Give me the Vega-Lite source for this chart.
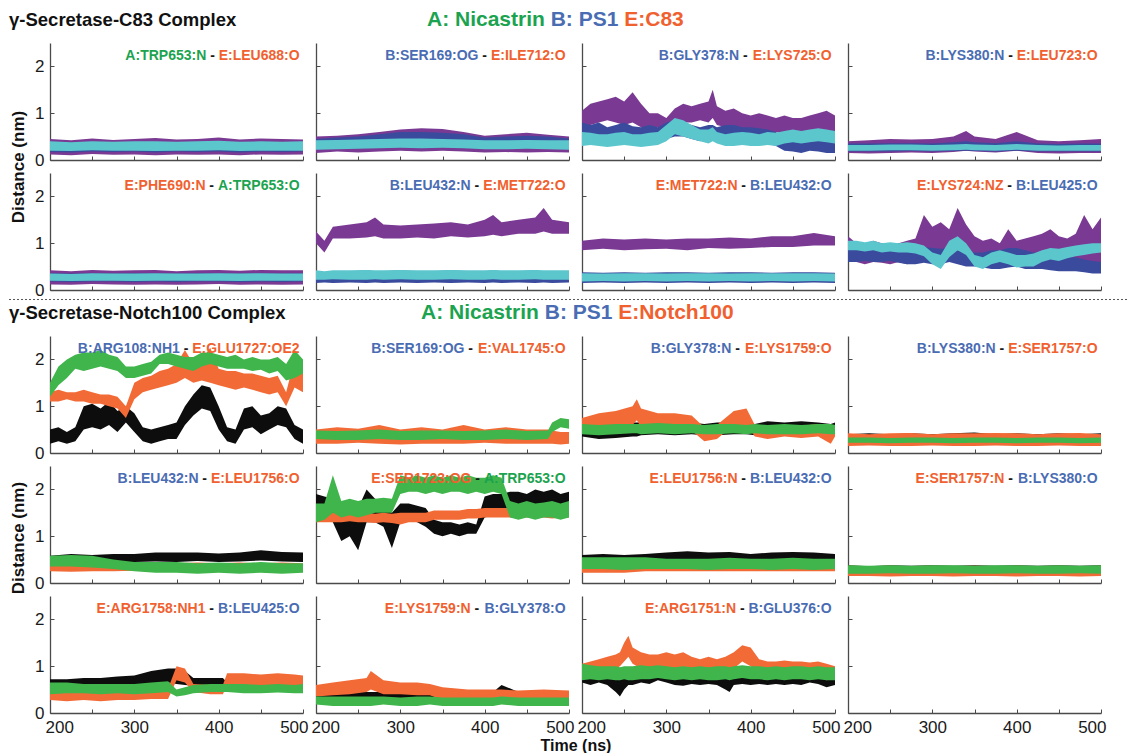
{
"$schema": "https://vega.github.io/schema/vega-lite/v6.json",
"padding": {"left": 8, "top": 8, "right": 0, "bottom": 2},
"spacing": 0,
"datasets": {
"c83": [
{"p":1,"t":200,"l1":0.12,"h1":0.45,"l2":0.17,"h2":0.38,"l3":0.2,"h3":0.4},
{"p":1,"t":225,"l1":0.1,"h1":0.42,"l2":0.16,"h2":0.37,"l3":0.19,"h3":0.38},
{"p":1,"t":250,"l1":0.13,"h1":0.46,"l2":0.18,"h2":0.38,"l3":0.21,"h3":0.4},
{"p":1,"t":275,"l1":0.11,"h1":0.43,"l2":0.17,"h2":0.37,"l3":0.2,"h3":0.39},
{"p":1,"t":300,"l1":0.12,"h1":0.45,"l2":0.18,"h2":0.38,"l3":0.2,"h3":0.4},
{"p":1,"t":325,"l1":0.1,"h1":0.47,"l2":0.16,"h2":0.37,"l3":0.19,"h3":0.4},
{"p":1,"t":350,"l1":0.12,"h1":0.44,"l2":0.18,"h2":0.38,"l3":0.2,"h3":0.39},
{"p":1,"t":375,"l1":0.11,"h1":0.45,"l2":0.17,"h2":0.37,"l3":0.2,"h3":0.4},
{"p":1,"t":400,"l1":0.12,"h1":0.48,"l2":0.18,"h2":0.38,"l3":0.21,"h3":0.41},
{"p":1,"t":425,"l1":0.1,"h1":0.44,"l2":0.16,"h2":0.37,"l3":0.19,"h3":0.39},
{"p":1,"t":450,"l1":0.12,"h1":0.46,"l2":0.18,"h2":0.38,"l3":0.2,"h3":0.4},
{"p":1,"t":475,"l1":0.11,"h1":0.45,"l2":0.17,"h2":0.37,"l3":0.2,"h3":0.39},
{"p":1,"t":500,"l1":0.12,"h1":0.44,"l2":0.18,"h2":0.38,"l3":0.2,"h3":0.4},
{"p":2,"t":200,"l1":0.15,"h1":0.5,"l2":0.25,"h2":0.45,"l3":0.22,"h3":0.42},
{"p":2,"t":225,"l1":0.18,"h1":0.52,"l2":0.26,"h2":0.48,"l3":0.23,"h3":0.43},
{"p":2,"t":250,"l1":0.16,"h1":0.55,"l2":0.27,"h2":0.5,"l3":0.24,"h3":0.44},
{"p":2,"t":275,"l1":0.18,"h1":0.6,"l2":0.28,"h2":0.55,"l3":0.25,"h3":0.45},
{"p":2,"t":300,"l1":0.2,"h1":0.65,"l2":0.3,"h2":0.6,"l3":0.26,"h3":0.46},
{"p":2,"t":325,"l1":0.18,"h1":0.68,"l2":0.3,"h2":0.6,"l3":0.25,"h3":0.46},
{"p":2,"t":350,"l1":0.2,"h1":0.66,"l2":0.3,"h2":0.58,"l3":0.26,"h3":0.45},
{"p":2,"t":375,"l1":0.18,"h1":0.6,"l2":0.28,"h2":0.55,"l3":0.25,"h3":0.44},
{"p":2,"t":400,"l1":0.16,"h1":0.52,"l2":0.26,"h2":0.48,"l3":0.23,"h3":0.42},
{"p":2,"t":425,"l1":0.17,"h1":0.55,"l2":0.26,"h2":0.5,"l3":0.23,"h3":0.42},
{"p":2,"t":450,"l1":0.16,"h1":0.58,"l2":0.27,"h2":0.52,"l3":0.24,"h3":0.43},
{"p":2,"t":475,"l1":0.17,"h1":0.54,"l2":0.26,"h2":0.5,"l3":0.23,"h3":0.42},
{"p":2,"t":500,"l1":0.16,"h1":0.5,"l2":0.25,"h2":0.46,"l3":0.22,"h3":0.42},
{"p":3,"t":200,"l1":0.7,"h1":1.05,"l2":0.45,"h2":0.8,"l3":0.3,"h3":0.6},
{"p":3,"t":210,"l1":0.75,"h1":1.2,"l2":0.4,"h2":0.75,"l3":0.32,"h3":0.58},
{"p":3,"t":220,"l1":0.8,"h1":1.25,"l2":0.45,"h2":0.8,"l3":0.3,"h3":0.55},
{"p":3,"t":230,"l1":0.85,"h1":1.3,"l2":0.4,"h2":0.7,"l3":0.28,"h3":0.55},
{"p":3,"t":240,"l1":0.8,"h1":1.35,"l2":0.42,"h2":0.75,"l3":0.3,"h3":0.58},
{"p":3,"t":250,"l1":0.75,"h1":1.25,"l2":0.45,"h2":0.8,"l3":0.32,"h3":0.6},
{"p":3,"t":260,"l1":0.8,"h1":1.45,"l2":0.4,"h2":0.72,"l3":0.3,"h3":0.55},
{"p":3,"t":270,"l1":0.7,"h1":1.2,"l2":0.4,"h2":0.7,"l3":0.28,"h3":0.55},
{"p":3,"t":280,"l1":0.65,"h1":1.0,"l2":0.45,"h2":0.75,"l3":0.3,"h3":0.58},
{"p":3,"t":290,"l1":0.7,"h1":1.0,"l2":0.4,"h2":0.7,"l3":0.32,"h3":0.6},
{"p":3,"t":300,"l1":0.6,"h1":0.9,"l2":0.45,"h2":0.8,"l3":0.4,"h3":0.75},
{"p":3,"t":310,"l1":0.75,"h1":1.1,"l2":0.5,"h2":0.85,"l3":0.55,"h3":0.9},
{"p":3,"t":320,"l1":0.8,"h1":1.2,"l2":0.5,"h2":0.8,"l3":0.5,"h3":0.85},
{"p":3,"t":330,"l1":0.8,"h1":1.15,"l2":0.45,"h2":0.75,"l3":0.45,"h3":0.75},
{"p":3,"t":340,"l1":0.85,"h1":1.2,"l2":0.4,"h2":0.7,"l3":0.4,"h3":0.65},
{"p":3,"t":350,"l1":0.8,"h1":1.25,"l2":0.45,"h2":0.75,"l3":0.35,"h3":0.65},
{"p":3,"t":355,"l1":0.9,"h1":1.5,"l2":0.45,"h2":0.75,"l3":0.4,"h3":0.7},
{"p":3,"t":360,"l1":0.75,"h1":1.15,"l2":0.4,"h2":0.7,"l3":0.35,"h3":0.6},
{"p":3,"t":370,"l1":0.7,"h1":1.05,"l2":0.4,"h2":0.75,"l3":0.3,"h3":0.55},
{"p":3,"t":380,"l1":0.7,"h1":1.1,"l2":0.45,"h2":0.75,"l3":0.3,"h3":0.58},
{"p":3,"t":390,"l1":0.65,"h1":1.0,"l2":0.4,"h2":0.7,"l3":0.32,"h3":0.6},
{"p":3,"t":400,"l1":0.6,"h1":0.95,"l2":0.4,"h2":0.7,"l3":0.3,"h3":0.58},
{"p":3,"t":410,"l1":0.65,"h1":1.0,"l2":0.38,"h2":0.68,"l3":0.3,"h3":0.55},
{"p":3,"t":420,"l1":0.6,"h1":0.95,"l2":0.35,"h2":0.65,"l3":0.32,"h3":0.6},
{"p":3,"t":430,"l1":0.6,"h1":0.9,"l2":0.3,"h2":0.6,"l3":0.3,"h3":0.58},
{"p":3,"t":440,"l1":0.55,"h1":0.95,"l2":0.2,"h2":0.45,"l3":0.35,"h3":0.62},
{"p":3,"t":450,"l1":0.6,"h1":0.9,"l2":0.18,"h2":0.42,"l3":0.38,"h3":0.65},
{"p":3,"t":460,"l1":0.55,"h1":0.9,"l2":0.15,"h2":0.4,"l3":0.35,"h3":0.62},
{"p":3,"t":470,"l1":0.6,"h1":0.95,"l2":0.2,"h2":0.45,"l3":0.38,"h3":0.65},
{"p":3,"t":480,"l1":0.55,"h1":1.0,"l2":0.18,"h2":0.42,"l3":0.4,"h3":0.68},
{"p":3,"t":490,"l1":0.6,"h1":1.05,"l2":0.15,"h2":0.4,"l3":0.38,"h3":0.65},
{"p":3,"t":500,"l1":0.55,"h1":0.95,"l2":0.15,"h2":0.4,"l3":0.35,"h3":0.62},
{"p":4,"t":200,"l1":0.15,"h1":0.4,"l2":0.18,"h2":0.35,"l3":0.2,"h3":0.32},
{"p":4,"t":225,"l1":0.14,"h1":0.42,"l2":0.18,"h2":0.35,"l3":0.2,"h3":0.32},
{"p":4,"t":250,"l1":0.15,"h1":0.45,"l2":0.18,"h2":0.36,"l3":0.21,"h3":0.33},
{"p":4,"t":275,"l1":0.16,"h1":0.44,"l2":0.19,"h2":0.36,"l3":0.21,"h3":0.33},
{"p":4,"t":300,"l1":0.15,"h1":0.45,"l2":0.18,"h2":0.35,"l3":0.2,"h3":0.32},
{"p":4,"t":325,"l1":0.17,"h1":0.5,"l2":0.19,"h2":0.38,"l3":0.21,"h3":0.33},
{"p":4,"t":340,"l1":0.2,"h1":0.62,"l2":0.2,"h2":0.4,"l3":0.22,"h3":0.34},
{"p":4,"t":350,"l1":0.18,"h1":0.5,"l2":0.19,"h2":0.38,"l3":0.21,"h3":0.33},
{"p":4,"t":375,"l1":0.16,"h1":0.45,"l2":0.18,"h2":0.36,"l3":0.2,"h3":0.32},
{"p":4,"t":400,"l1":0.2,"h1":0.6,"l2":0.2,"h2":0.4,"l3":0.22,"h3":0.34},
{"p":4,"t":425,"l1":0.15,"h1":0.42,"l2":0.18,"h2":0.35,"l3":0.2,"h3":0.32},
{"p":4,"t":450,"l1":0.14,"h1":0.4,"l2":0.18,"h2":0.34,"l3":0.2,"h3":0.31},
{"p":4,"t":475,"l1":0.15,"h1":0.42,"l2":0.18,"h2":0.35,"l3":0.2,"h3":0.32},
{"p":4,"t":500,"l1":0.15,"h1":0.45,"l2":0.18,"h2":0.35,"l3":0.2,"h3":0.32},
{"p":5,"t":200,"l1":0.12,"h1":0.42,"l2":0.18,"h2":0.36,"l3":0.2,"h3":0.35},
{"p":5,"t":225,"l1":0.11,"h1":0.4,"l2":0.17,"h2":0.35,"l3":0.19,"h3":0.34},
{"p":5,"t":250,"l1":0.13,"h1":0.43,"l2":0.18,"h2":0.36,"l3":0.2,"h3":0.36},
{"p":5,"t":275,"l1":0.12,"h1":0.41,"l2":0.18,"h2":0.35,"l3":0.2,"h3":0.35},
{"p":5,"t":300,"l1":0.11,"h1":0.42,"l2":0.17,"h2":0.36,"l3":0.19,"h3":0.35},
{"p":5,"t":325,"l1":0.12,"h1":0.43,"l2":0.18,"h2":0.36,"l3":0.2,"h3":0.36},
{"p":5,"t":350,"l1":0.11,"h1":0.4,"l2":0.17,"h2":0.35,"l3":0.2,"h3":0.35},
{"p":5,"t":375,"l1":0.12,"h1":0.42,"l2":0.18,"h2":0.36,"l3":0.2,"h3":0.35},
{"p":5,"t":400,"l1":0.13,"h1":0.43,"l2":0.18,"h2":0.36,"l3":0.2,"h3":0.36},
{"p":5,"t":425,"l1":0.11,"h1":0.41,"l2":0.17,"h2":0.35,"l3":0.19,"h3":0.35},
{"p":5,"t":450,"l1":0.12,"h1":0.43,"l2":0.18,"h2":0.36,"l3":0.2,"h3":0.36},
{"p":5,"t":475,"l1":0.11,"h1":0.42,"l2":0.17,"h2":0.35,"l3":0.2,"h3":0.35},
{"p":5,"t":500,"l1":0.12,"h1":0.42,"l2":0.18,"h2":0.36,"l3":0.2,"h3":0.35},
{"p":6,"t":200,"l1":1.0,"h1":1.25,"l2":0.15,"h2":0.4,"l3":0.22,"h3":0.42},
{"p":6,"t":210,"l1":0.8,"h1":1.05,"l2":0.16,"h2":0.38,"l3":0.22,"h3":0.4},
{"p":6,"t":220,"l1":1.1,"h1":1.35,"l2":0.15,"h2":0.4,"l3":0.23,"h3":0.42},
{"p":6,"t":240,"l1":1.1,"h1":1.4,"l2":0.16,"h2":0.4,"l3":0.22,"h3":0.42},
{"p":6,"t":260,"l1":1.12,"h1":1.45,"l2":0.15,"h2":0.42,"l3":0.22,"h3":0.43},
{"p":6,"t":270,"l1":1.15,"h1":1.55,"l2":0.16,"h2":0.4,"l3":0.23,"h3":0.42},
{"p":6,"t":280,"l1":1.1,"h1":1.4,"l2":0.15,"h2":0.4,"l3":0.22,"h3":0.42},
{"p":6,"t":300,"l1":1.1,"h1":1.38,"l2":0.16,"h2":0.42,"l3":0.23,"h3":0.43},
{"p":6,"t":320,"l1":1.12,"h1":1.4,"l2":0.15,"h2":0.4,"l3":0.22,"h3":0.42},
{"p":6,"t":340,"l1":1.1,"h1":1.42,"l2":0.16,"h2":0.4,"l3":0.22,"h3":0.42},
{"p":6,"t":360,"l1":1.15,"h1":1.45,"l2":0.15,"h2":0.42,"l3":0.23,"h3":0.43},
{"p":6,"t":380,"l1":1.12,"h1":1.4,"l2":0.16,"h2":0.4,"l3":0.22,"h3":0.42},
{"p":6,"t":400,"l1":1.15,"h1":1.5,"l2":0.15,"h2":0.4,"l3":0.22,"h3":0.42},
{"p":6,"t":410,"l1":1.18,"h1":1.6,"l2":0.16,"h2":0.42,"l3":0.23,"h3":0.43},
{"p":6,"t":420,"l1":1.15,"h1":1.45,"l2":0.15,"h2":0.4,"l3":0.22,"h3":0.42},
{"p":6,"t":440,"l1":1.2,"h1":1.5,"l2":0.16,"h2":0.4,"l3":0.22,"h3":0.42},
{"p":6,"t":460,"l1":1.2,"h1":1.55,"l2":0.15,"h2":0.42,"l3":0.23,"h3":0.43},
{"p":6,"t":470,"l1":1.25,"h1":1.75,"l2":0.16,"h2":0.4,"l3":0.22,"h3":0.42},
{"p":6,"t":480,"l1":1.2,"h1":1.5,"l2":0.15,"h2":0.4,"l3":0.22,"h3":0.42},
{"p":6,"t":500,"l1":1.2,"h1":1.45,"l2":0.16,"h2":0.4,"l3":0.22,"h3":0.42},
{"p":7,"t":200,"l1":0.85,"h1":1.05,"l2":0.15,"h2":0.38,"l3":0.18,"h3":0.36},
{"p":7,"t":225,"l1":0.88,"h1":1.1,"l2":0.16,"h2":0.37,"l3":0.19,"h3":0.35},
{"p":7,"t":250,"l1":0.85,"h1":1.08,"l2":0.15,"h2":0.38,"l3":0.18,"h3":0.36},
{"p":7,"t":275,"l1":0.87,"h1":1.1,"l2":0.16,"h2":0.37,"l3":0.19,"h3":0.36},
{"p":7,"t":300,"l1":0.88,"h1":1.08,"l2":0.15,"h2":0.38,"l3":0.18,"h3":0.35},
{"p":7,"t":325,"l1":0.85,"h1":1.1,"l2":0.16,"h2":0.38,"l3":0.19,"h3":0.36},
{"p":7,"t":350,"l1":0.9,"h1":1.1,"l2":0.15,"h2":0.37,"l3":0.18,"h3":0.36},
{"p":7,"t":375,"l1":0.88,"h1":1.12,"l2":0.16,"h2":0.38,"l3":0.19,"h3":0.35},
{"p":7,"t":400,"l1":0.9,"h1":1.1,"l2":0.15,"h2":0.38,"l3":0.18,"h3":0.36},
{"p":7,"t":425,"l1":0.92,"h1":1.15,"l2":0.16,"h2":0.37,"l3":0.19,"h3":0.36},
{"p":7,"t":450,"l1":0.92,"h1":1.15,"l2":0.15,"h2":0.38,"l3":0.18,"h3":0.36},
{"p":7,"t":475,"l1":0.95,"h1":1.22,"l2":0.16,"h2":0.38,"l3":0.19,"h3":0.36},
{"p":7,"t":500,"l1":0.95,"h1":1.15,"l2":0.15,"h2":0.37,"l3":0.18,"h3":0.35},
{"p":8,"t":200,"l1":0.7,"h1":1.15,"l2":0.6,"h2":0.95,"l3":0.85,"h3":1.05},
{"p":8,"t":210,"l1":0.6,"h1":1.0,"l2":0.6,"h2":0.9,"l3":0.85,"h3":1.05},
{"p":8,"t":220,"l1":0.55,"h1":1.0,"l2":0.62,"h2":0.92,"l3":0.82,"h3":1.02},
{"p":8,"t":230,"l1":0.6,"h1":1.05,"l2":0.6,"h2":0.9,"l3":0.85,"h3":1.05},
{"p":8,"t":240,"l1":0.58,"h1":1.0,"l2":0.6,"h2":0.92,"l3":0.8,"h3":1.0},
{"p":8,"t":250,"l1":0.55,"h1":0.95,"l2":0.62,"h2":0.9,"l3":0.82,"h3":1.02},
{"p":8,"t":260,"l1":0.6,"h1":1.0,"l2":0.58,"h2":0.88,"l3":0.8,"h3":1.0},
{"p":8,"t":270,"l1":0.55,"h1":1.05,"l2":0.55,"h2":0.9,"l3":0.8,"h3":1.02},
{"p":8,"t":280,"l1":0.6,"h1":1.1,"l2":0.55,"h2":0.9,"l3":0.78,"h3":1.0},
{"p":8,"t":290,"l1":0.65,"h1":1.6,"l2":0.58,"h2":0.92,"l3":0.72,"h3":0.95},
{"p":8,"t":300,"l1":0.7,"h1":1.35,"l2":0.55,"h2":0.9,"l3":0.55,"h3":0.8},
{"p":8,"t":310,"l1":0.75,"h1":1.45,"l2":0.55,"h2":0.88,"l3":0.45,"h3":0.75},
{"p":8,"t":320,"l1":0.8,"h1":1.3,"l2":0.6,"h2":0.9,"l3":0.7,"h3":1.05},
{"p":8,"t":330,"l1":0.85,"h1":1.75,"l2":0.55,"h2":0.85,"l3":0.85,"h3":1.15},
{"p":8,"t":340,"l1":0.8,"h1":1.4,"l2":0.5,"h2":0.8,"l3":0.75,"h3":1.0},
{"p":8,"t":350,"l1":0.65,"h1":1.15,"l2":0.5,"h2":0.8,"l3":0.5,"h3":0.75},
{"p":8,"t":360,"l1":0.6,"h1":1.05,"l2":0.48,"h2":0.8,"l3":0.45,"h3":0.7},
{"p":8,"t":370,"l1":0.55,"h1":1.1,"l2":0.45,"h2":0.85,"l3":0.55,"h3":0.8},
{"p":8,"t":380,"l1":0.5,"h1":1.0,"l2":0.45,"h2":0.85,"l3":0.6,"h3":0.85},
{"p":8,"t":390,"l1":0.55,"h1":1.3,"l2":0.48,"h2":0.9,"l3":0.55,"h3":0.8},
{"p":8,"t":400,"l1":0.5,"h1":1.05,"l2":0.5,"h2":0.9,"l3":0.48,"h3":0.75},
{"p":8,"t":410,"l1":0.55,"h1":1.1,"l2":0.45,"h2":0.85,"l3":0.5,"h3":0.75},
{"p":8,"t":420,"l1":0.6,"h1":1.15,"l2":0.45,"h2":0.8,"l3":0.5,"h3":0.78},
{"p":8,"t":430,"l1":0.6,"h1":1.2,"l2":0.45,"h2":0.8,"l3":0.6,"h3":0.85},
{"p":8,"t":440,"l1":0.65,"h1":1.3,"l2":0.42,"h2":0.75,"l3":0.65,"h3":0.9},
{"p":8,"t":450,"l1":0.6,"h1":1.15,"l2":0.4,"h2":0.72,"l3":0.62,"h3":0.88},
{"p":8,"t":460,"l1":0.55,"h1":1.1,"l2":0.4,"h2":0.7,"l3":0.68,"h3":0.92},
{"p":8,"t":470,"l1":0.5,"h1":1.2,"l2":0.4,"h2":0.7,"l3":0.72,"h3":0.95},
{"p":8,"t":480,"l1":0.55,"h1":1.6,"l2":0.38,"h2":0.65,"l3":0.75,"h3":0.98},
{"p":8,"t":490,"l1":0.5,"h1":1.3,"l2":0.35,"h2":0.62,"l3":0.78,"h3":1.0},
{"p":8,"t":500,"l1":0.55,"h1":1.55,"l2":0.35,"h2":0.6,"l3":0.8,"h3":1.0},
{"p":1,"k":"st","tx":"γ-Secretase-C83 Complex"},
{"p":2,"k":"hA","tx":"A: Nicastrin"},
{"p":2,"k":"hB","tx":"B: PS1"},
{"p":2,"k":"hE","tx":"E:C83"},
{"p":1,"k":"yt","tx":"Distance (nm)"},
{"p":1,"t1":"A:TRP653:N","c1":"A","t2":"E:LEU688:O","c2":"E","x1":385.3,"xd":392.7},
{"p":2,"t1":"B:SER169:OG","c1":"B","t2":"E:ILE712:O","c2":"E","x1":392.7,"xd":400.0},
{"p":3,"t1":"B:GLY378:N","c1":"B","t2":"E:LYS725:O","c2":"E","x1":386.3,"xd":393.6},
{"p":4,"t1":"B:LYS380:N","c1":"B","t2":"E:LEU723:O","c2":"E","x1":385.3,"xd":392.7},
{"p":5,"t1":"E:PHE690:N","c1":"E","t2":"A:TRP653:O","c2":"A","x1":384.4,"xd":391.7},
{"p":6,"t1":"B:LEU432:N","c1":"B","t2":"E:MET722:O","c2":"E","x1":383.4,"xd":390.8},
{"p":7,"t1":"E:MET722:N","c1":"E","t2":"B:LEU432:O","c2":"B","x1":384.4,"xd":391.7},
{"p":8,"t1":"E:LYS724:NZ","c1":"E","t2":"B:LEU425:O","c2":"B","x1":384.4,"xd":391.7}
],
"notch": [
{"p":9,"t":200,"l1":0.2,"h1":0.5,"l2":1.1,"h2":1.3,"l3":1.2,"h3":1.5},
{"p":9,"t":210,"l1":0.25,"h1":0.55,"l2":1.1,"h2":1.35,"l3":1.45,"h3":1.85},
{"p":9,"t":220,"l1":0.2,"h1":0.45,"l2":1.15,"h2":1.3,"l3":1.6,"h3":2.0},
{"p":9,"t":230,"l1":0.25,"h1":0.55,"l2":1.1,"h2":1.3,"l3":1.8,"h3":2.1},
{"p":9,"t":240,"l1":0.5,"h1":1.0,"l2":1.1,"h2":1.35,"l3":1.75,"h3":2.15},
{"p":9,"t":250,"l1":0.55,"h1":1.05,"l2":1.05,"h2":1.3,"l3":1.8,"h3":2.15},
{"p":9,"t":260,"l1":0.5,"h1":0.95,"l2":1.05,"h2":1.25,"l3":1.85,"h3":2.2},
{"p":9,"t":270,"l1":0.6,"h1":1.1,"l2":1.0,"h2":1.25,"l3":1.8,"h3":2.1},
{"p":9,"t":280,"l1":0.45,"h1":0.9,"l2":0.95,"h2":1.2,"l3":1.75,"h3":2.05},
{"p":9,"t":290,"l1":0.65,"h1":1.0,"l2":0.75,"h2":1.0,"l3":1.6,"h3":1.85},
{"p":9,"t":300,"l1":0.45,"h1":0.85,"l2":1.15,"h2":1.5,"l3":1.6,"h3":1.85},
{"p":9,"t":310,"l1":0.25,"h1":0.55,"l2":1.3,"h2":1.6,"l3":1.65,"h3":1.9},
{"p":9,"t":320,"l1":0.2,"h1":0.5,"l2":1.35,"h2":1.65,"l3":1.7,"h3":1.95},
{"p":9,"t":330,"l1":0.25,"h1":0.55,"l2":1.4,"h2":1.75,"l3":1.9,"h3":2.1},
{"p":9,"t":340,"l1":0.3,"h1":0.6,"l2":1.45,"h2":1.8,"l3":1.9,"h3":2.15},
{"p":9,"t":350,"l1":0.3,"h1":0.65,"l2":1.5,"h2":1.9,"l3":1.85,"h3":2.1},
{"p":9,"t":360,"l1":0.6,"h1":1.0,"l2":1.6,"h2":2.2,"l3":1.8,"h3":2.05},
{"p":9,"t":370,"l1":0.8,"h1":1.25,"l2":1.5,"h2":1.9,"l3":1.75,"h3":2.05},
{"p":9,"t":380,"l1":0.95,"h1":1.45,"l2":1.55,"h2":2.0,"l3":1.85,"h3":2.15},
{"p":9,"t":390,"l1":0.9,"h1":1.4,"l2":1.5,"h2":2.25,"l3":1.9,"h3":2.15},
{"p":9,"t":400,"l1":0.5,"h1":1.0,"l2":1.45,"h2":1.8,"l3":1.85,"h3":2.1},
{"p":9,"t":410,"l1":0.25,"h1":0.55,"l2":1.4,"h2":1.75,"l3":1.8,"h3":2.05},
{"p":9,"t":420,"l1":0.2,"h1":0.5,"l2":1.35,"h2":1.75,"l3":1.8,"h3":2.1},
{"p":9,"t":430,"l1":0.5,"h1":0.95,"l2":1.4,"h2":1.7,"l3":1.8,"h3":2.0},
{"p":9,"t":440,"l1":0.55,"h1":1.0,"l2":1.35,"h2":1.7,"l3":1.75,"h3":2.05},
{"p":9,"t":450,"l1":0.4,"h1":0.8,"l2":1.3,"h2":1.65,"l3":1.78,"h3":2.0},
{"p":9,"t":460,"l1":0.5,"h1":0.85,"l2":1.25,"h2":1.6,"l3":1.7,"h3":2.0},
{"p":9,"t":470,"l1":0.6,"h1":1.0,"l2":1.3,"h2":1.65,"l3":1.75,"h3":2.05},
{"p":9,"t":480,"l1":0.55,"h1":0.95,"l2":1.0,"h2":1.3,"l3":1.55,"h3":1.9},
{"p":9,"t":490,"l1":0.3,"h1":0.6,"l2":1.4,"h2":2.0,"l3":1.6,"h3":2.2},
{"p":9,"t":500,"l1":0.2,"h1":0.5,"l2":1.3,"h2":1.8,"l3":1.7,"h3":2.0},
{"p":10,"t":200,"l1":0.25,"h1":0.45,"l2":0.2,"h2":0.5,"l3":0.3,"h3":0.48},
{"p":10,"t":225,"l1":0.25,"h1":0.45,"l2":0.2,"h2":0.55,"l3":0.28,"h3":0.47},
{"p":10,"t":250,"l1":0.24,"h1":0.44,"l2":0.22,"h2":0.52,"l3":0.28,"h3":0.48},
{"p":10,"t":275,"l1":0.25,"h1":0.45,"l2":0.2,"h2":0.6,"l3":0.3,"h3":0.5},
{"p":10,"t":300,"l1":0.24,"h1":0.45,"l2":0.18,"h2":0.5,"l3":0.28,"h3":0.47},
{"p":10,"t":325,"l1":0.25,"h1":0.44,"l2":0.2,"h2":0.55,"l3":0.28,"h3":0.48},
{"p":10,"t":350,"l1":0.26,"h1":0.45,"l2":0.2,"h2":0.5,"l3":0.3,"h3":0.48},
{"p":10,"t":375,"l1":0.25,"h1":0.46,"l2":0.2,"h2":0.6,"l3":0.28,"h3":0.47},
{"p":10,"t":400,"l1":0.24,"h1":0.44,"l2":0.22,"h2":0.5,"l3":0.28,"h3":0.48},
{"p":10,"t":425,"l1":0.25,"h1":0.45,"l2":0.2,"h2":0.55,"l3":0.3,"h3":0.5},
{"p":10,"t":450,"l1":0.24,"h1":0.45,"l2":0.2,"h2":0.5,"l3":0.28,"h3":0.47},
{"p":10,"t":475,"l1":0.25,"h1":0.45,"l2":0.2,"h2":0.5,"l3":0.3,"h3":0.48},
{"p":10,"t":480,"l1":0.25,"h1":0.45,"l2":0.2,"h2":0.48,"l3":0.45,"h3":0.65},
{"p":10,"t":490,"l1":0.25,"h1":0.45,"l2":0.18,"h2":0.45,"l3":0.55,"h3":0.75},
{"p":10,"t":500,"l1":0.25,"h1":0.45,"l2":0.2,"h2":0.45,"l3":0.52,"h3":0.72},
{"p":11,"t":200,"l1":0.35,"h1":0.7,"l2":0.45,"h2":0.75,"l3":0.4,"h3":0.62},
{"p":11,"t":220,"l1":0.3,"h1":0.65,"l2":0.5,"h2":0.85,"l3":0.38,"h3":0.6},
{"p":11,"t":240,"l1":0.32,"h1":0.68,"l2":0.55,"h2":0.9,"l3":0.4,"h3":0.62},
{"p":11,"t":260,"l1":0.35,"h1":0.65,"l2":0.6,"h2":1.0,"l3":0.42,"h3":0.62},
{"p":11,"t":265,"l1":0.35,"h1":0.65,"l2":0.7,"h2":1.15,"l3":0.42,"h3":0.62},
{"p":11,"t":270,"l1":0.38,"h1":0.65,"l2":0.55,"h2":0.95,"l3":0.4,"h3":0.62},
{"p":11,"t":290,"l1":0.4,"h1":0.65,"l2":0.5,"h2":0.85,"l3":0.42,"h3":0.64},
{"p":11,"t":310,"l1":0.38,"h1":0.62,"l2":0.5,"h2":0.85,"l3":0.4,"h3":0.62},
{"p":11,"t":330,"l1":0.4,"h1":0.65,"l2":0.48,"h2":0.8,"l3":0.42,"h3":0.62},
{"p":11,"t":345,"l1":0.38,"h1":0.62,"l2":0.25,"h2":0.55,"l3":0.4,"h3":0.6},
{"p":11,"t":360,"l1":0.38,"h1":0.65,"l2":0.3,"h2":0.6,"l3":0.4,"h3":0.62},
{"p":11,"t":380,"l1":0.4,"h1":0.65,"l2":0.6,"h2":0.9,"l3":0.42,"h3":0.62},
{"p":11,"t":395,"l1":0.4,"h1":0.65,"l2":0.6,"h2":0.95,"l3":0.4,"h3":0.6},
{"p":11,"t":405,"l1":0.38,"h1":0.62,"l2":0.35,"h2":0.6,"l3":0.42,"h3":0.62},
{"p":11,"t":420,"l1":0.4,"h1":0.68,"l2":0.3,"h2":0.58,"l3":0.4,"h3":0.6},
{"p":11,"t":440,"l1":0.38,"h1":0.65,"l2":0.35,"h2":0.6,"l3":0.4,"h3":0.62},
{"p":11,"t":460,"l1":0.4,"h1":0.68,"l2":0.32,"h2":0.58,"l3":0.4,"h3":0.6},
{"p":11,"t":480,"l1":0.4,"h1":0.65,"l2":0.35,"h2":0.62,"l3":0.42,"h3":0.62},
{"p":11,"t":495,"l1":0.38,"h1":0.62,"l2":0.2,"h2":0.55,"l3":0.4,"h3":0.62},
{"p":11,"t":500,"l1":0.4,"h1":0.65,"l2":0.35,"h2":0.6,"l3":0.4,"h3":0.6},
{"p":12,"t":200,"l1":0.2,"h1":0.4,"l2":0.15,"h2":0.42,"l3":0.22,"h3":0.33},
{"p":12,"t":225,"l1":0.2,"h1":0.42,"l2":0.16,"h2":0.4,"l3":0.22,"h3":0.33},
{"p":12,"t":250,"l1":0.19,"h1":0.4,"l2":0.15,"h2":0.42,"l3":0.21,"h3":0.32},
{"p":12,"t":275,"l1":0.2,"h1":0.42,"l2":0.15,"h2":0.43,"l3":0.22,"h3":0.33},
{"p":12,"t":300,"l1":0.2,"h1":0.4,"l2":0.16,"h2":0.4,"l3":0.22,"h3":0.33},
{"p":12,"t":325,"l1":0.19,"h1":0.42,"l2":0.15,"h2":0.42,"l3":0.21,"h3":0.32},
{"p":12,"t":350,"l1":0.2,"h1":0.44,"l2":0.15,"h2":0.42,"l3":0.22,"h3":0.33},
{"p":12,"t":375,"l1":0.2,"h1":0.4,"l2":0.16,"h2":0.43,"l3":0.22,"h3":0.33},
{"p":12,"t":400,"l1":0.19,"h1":0.42,"l2":0.15,"h2":0.42,"l3":0.21,"h3":0.32},
{"p":12,"t":425,"l1":0.2,"h1":0.4,"l2":0.15,"h2":0.4,"l3":0.22,"h3":0.33},
{"p":12,"t":450,"l1":0.2,"h1":0.42,"l2":0.16,"h2":0.42,"l3":0.22,"h3":0.33},
{"p":12,"t":475,"l1":0.19,"h1":0.4,"l2":0.15,"h2":0.43,"l3":0.21,"h3":0.32},
{"p":12,"t":500,"l1":0.2,"h1":0.42,"l2":0.15,"h2":0.4,"l3":0.22,"h3":0.33},
{"p":13,"t":200,"l1":0.4,"h1":0.58,"l2":0.25,"h2":0.4,"l3":0.35,"h3":0.58},
{"p":13,"t":225,"l1":0.42,"h1":0.62,"l2":0.24,"h2":0.38,"l3":0.35,"h3":0.6},
{"p":13,"t":250,"l1":0.4,"h1":0.6,"l2":0.25,"h2":0.38,"l3":0.33,"h3":0.58},
{"p":13,"t":275,"l1":0.45,"h1":0.62,"l2":0.25,"h2":0.4,"l3":0.3,"h3":0.5},
{"p":13,"t":300,"l1":0.45,"h1":0.62,"l2":0.26,"h2":0.42,"l3":0.25,"h3":0.45},
{"p":13,"t":325,"l1":0.46,"h1":0.65,"l2":0.25,"h2":0.45,"l3":0.22,"h3":0.45},
{"p":13,"t":350,"l1":0.45,"h1":0.65,"l2":0.25,"h2":0.42,"l3":0.22,"h3":0.45},
{"p":13,"t":375,"l1":0.47,"h1":0.65,"l2":0.26,"h2":0.44,"l3":0.2,"h3":0.42},
{"p":13,"t":400,"l1":0.45,"h1":0.63,"l2":0.25,"h2":0.42,"l3":0.22,"h3":0.44},
{"p":13,"t":425,"l1":0.46,"h1":0.65,"l2":0.26,"h2":0.44,"l3":0.2,"h3":0.42},
{"p":13,"t":450,"l1":0.48,"h1":0.7,"l2":0.25,"h2":0.42,"l3":0.22,"h3":0.45},
{"p":13,"t":475,"l1":0.46,"h1":0.66,"l2":0.25,"h2":0.44,"l3":0.2,"h3":0.42},
{"p":13,"t":500,"l1":0.45,"h1":0.65,"l2":0.25,"h2":0.42,"l3":0.22,"h3":0.42},
{"p":14,"t":200,"l1":1.45,"h1":1.9,"l2":1.3,"h2":1.55,"l3":1.3,"h3":1.7},
{"p":14,"t":210,"l1":1.4,"h1":1.85,"l2":1.3,"h2":1.5,"l3":1.35,"h3":1.7},
{"p":14,"t":220,"l1":1.3,"h1":1.8,"l2":1.3,"h2":1.5,"l3":1.5,"h3":2.3},
{"p":14,"t":230,"l1":0.9,"h1":1.6,"l2":1.3,"h2":1.5,"l3":1.4,"h3":1.75},
{"p":14,"t":240,"l1":1.0,"h1":1.7,"l2":1.32,"h2":1.52,"l3":1.45,"h3":1.8},
{"p":14,"t":250,"l1":0.7,"h1":1.6,"l2":1.3,"h2":1.5,"l3":1.4,"h3":1.75},
{"p":14,"t":260,"l1":1.3,"h1":2.0,"l2":1.3,"h2":1.5,"l3":1.45,"h3":1.8},
{"p":14,"t":270,"l1":1.3,"h1":1.8,"l2":1.28,"h2":1.48,"l3":1.5,"h3":1.8},
{"p":14,"t":280,"l1":1.2,"h1":1.75,"l2":1.3,"h2":1.5,"l3":1.5,"h3":1.82},
{"p":14,"t":290,"l1":0.75,"h1":1.5,"l2":1.28,"h2":1.48,"l3":1.5,"h3":1.8},
{"p":14,"t":300,"l1":1.3,"h1":1.7,"l2":1.25,"h2":1.5,"l3":1.9,"h3":2.3},
{"p":14,"t":310,"l1":1.35,"h1":1.7,"l2":1.3,"h2":1.5,"l3":1.95,"h3":2.25},
{"p":14,"t":320,"l1":1.3,"h1":1.65,"l2":1.3,"h2":1.5,"l3":1.95,"h3":2.3},
{"p":14,"t":330,"l1":1.2,"h1":1.6,"l2":1.3,"h2":1.5,"l3":1.9,"h3":2.25},
{"p":14,"t":340,"l1":1.05,"h1":1.35,"l2":1.35,"h2":1.55,"l3":1.95,"h3":2.3},
{"p":14,"t":350,"l1":1.0,"h1":1.3,"l2":1.35,"h2":1.55,"l3":1.9,"h3":2.25},
{"p":14,"t":360,"l1":1.05,"h1":1.3,"l2":1.35,"h2":1.55,"l3":1.95,"h3":2.3},
{"p":14,"t":370,"l1":1.0,"h1":1.25,"l2":1.35,"h2":1.55,"l3":1.95,"h3":2.25},
{"p":14,"t":380,"l1":1.05,"h1":1.3,"l2":1.38,"h2":1.58,"l3":1.9,"h3":2.3},
{"p":14,"t":390,"l1":1.05,"h1":1.25,"l2":1.38,"h2":1.58,"l3":1.95,"h3":2.25},
{"p":14,"t":400,"l1":1.4,"h1":1.85,"l2":1.4,"h2":1.6,"l3":1.9,"h3":2.25},
{"p":14,"t":410,"l1":1.45,"h1":1.9,"l2":1.4,"h2":1.6,"l3":1.95,"h3":2.3},
{"p":14,"t":420,"l1":1.5,"h1":1.9,"l2":1.4,"h2":1.6,"l3":1.9,"h3":2.25},
{"p":14,"t":430,"l1":1.5,"h1":1.95,"l2":1.4,"h2":1.6,"l3":1.4,"h3":1.75},
{"p":14,"t":440,"l1":1.55,"h1":1.95,"l2":1.4,"h2":1.6,"l3":1.35,"h3":1.7},
{"p":14,"t":450,"l1":1.5,"h1":1.9,"l2":1.4,"h2":1.6,"l3":1.4,"h3":1.75},
{"p":14,"t":460,"l1":1.55,"h1":2.0,"l2":1.38,"h2":1.58,"l3":1.35,"h3":1.7},
{"p":14,"t":470,"l1":1.5,"h1":1.95,"l2":1.4,"h2":1.6,"l3":1.4,"h3":1.72},
{"p":14,"t":480,"l1":1.55,"h1":2.0,"l2":1.38,"h2":1.6,"l3":1.4,"h3":1.75},
{"p":14,"t":490,"l1":1.5,"h1":1.9,"l2":1.4,"h2":1.62,"l3":1.35,"h3":1.7},
{"p":14,"t":500,"l1":1.55,"h1":1.95,"l2":1.4,"h2":1.6,"l3":1.4,"h3":1.75},
{"p":15,"t":200,"l1":0.38,"h1":0.6,"l2":0.22,"h2":0.4,"l3":0.3,"h3":0.55},
{"p":15,"t":225,"l1":0.38,"h1":0.62,"l2":0.22,"h2":0.38,"l3":0.3,"h3":0.55},
{"p":15,"t":250,"l1":0.38,"h1":0.6,"l2":0.22,"h2":0.4,"l3":0.28,"h3":0.55},
{"p":15,"t":275,"l1":0.4,"h1":0.62,"l2":0.25,"h2":0.42,"l3":0.3,"h3":0.55},
{"p":15,"t":300,"l1":0.4,"h1":0.65,"l2":0.25,"h2":0.45,"l3":0.3,"h3":0.52},
{"p":15,"t":325,"l1":0.42,"h1":0.68,"l2":0.25,"h2":0.45,"l3":0.3,"h3":0.52},
{"p":15,"t":350,"l1":0.42,"h1":0.65,"l2":0.25,"h2":0.45,"l3":0.28,"h3":0.52},
{"p":15,"t":375,"l1":0.4,"h1":0.66,"l2":0.25,"h2":0.44,"l3":0.3,"h3":0.54},
{"p":15,"t":400,"l1":0.4,"h1":0.62,"l2":0.25,"h2":0.45,"l3":0.3,"h3":0.52},
{"p":15,"t":425,"l1":0.4,"h1":0.65,"l2":0.25,"h2":0.44,"l3":0.28,"h3":0.52},
{"p":15,"t":450,"l1":0.4,"h1":0.66,"l2":0.25,"h2":0.44,"l3":0.3,"h3":0.54},
{"p":15,"t":475,"l1":0.4,"h1":0.65,"l2":0.25,"h2":0.44,"l3":0.28,"h3":0.52},
{"p":15,"t":500,"l1":0.4,"h1":0.62,"l2":0.25,"h2":0.45,"l3":0.3,"h3":0.52},
{"p":16,"t":200,"l1":0.17,"h1":0.38,"l2":0.15,"h2":0.37,"l3":0.2,"h3":0.38},
{"p":16,"t":225,"l1":0.16,"h1":0.36,"l2":0.15,"h2":0.36,"l3":0.2,"h3":0.37},
{"p":16,"t":250,"l1":0.17,"h1":0.38,"l2":0.14,"h2":0.37,"l3":0.21,"h3":0.38},
{"p":16,"t":275,"l1":0.16,"h1":0.37,"l2":0.15,"h2":0.36,"l3":0.2,"h3":0.37},
{"p":16,"t":300,"l1":0.17,"h1":0.38,"l2":0.15,"h2":0.37,"l3":0.2,"h3":0.38},
{"p":16,"t":325,"l1":0.16,"h1":0.37,"l2":0.14,"h2":0.36,"l3":0.21,"h3":0.38},
{"p":16,"t":350,"l1":0.17,"h1":0.38,"l2":0.15,"h2":0.37,"l3":0.2,"h3":0.37},
{"p":16,"t":375,"l1":0.16,"h1":0.37,"l2":0.15,"h2":0.36,"l3":0.2,"h3":0.38},
{"p":16,"t":400,"l1":0.17,"h1":0.38,"l2":0.14,"h2":0.37,"l3":0.21,"h3":0.38},
{"p":16,"t":425,"l1":0.16,"h1":0.37,"l2":0.15,"h2":0.36,"l3":0.2,"h3":0.37},
{"p":16,"t":450,"l1":0.17,"h1":0.38,"l2":0.15,"h2":0.37,"l3":0.2,"h3":0.38},
{"p":16,"t":475,"l1":0.16,"h1":0.37,"l2":0.14,"h2":0.36,"l3":0.21,"h3":0.37},
{"p":16,"t":500,"l1":0.17,"h1":0.38,"l2":0.15,"h2":0.37,"l3":0.2,"h3":0.38},
{"p":17,"t":200,"l1":0.55,"h1":0.72,"l2":0.28,"h2":0.5,"l3":0.4,"h3":0.65},
{"p":17,"t":220,"l1":0.55,"h1":0.72,"l2":0.25,"h2":0.48,"l3":0.42,"h3":0.65},
{"p":17,"t":240,"l1":0.55,"h1":0.75,"l2":0.28,"h2":0.5,"l3":0.42,"h3":0.62},
{"p":17,"t":260,"l1":0.58,"h1":0.75,"l2":0.25,"h2":0.5,"l3":0.4,"h3":0.62},
{"p":17,"t":280,"l1":0.55,"h1":0.78,"l2":0.28,"h2":0.5,"l3":0.42,"h3":0.62},
{"p":17,"t":300,"l1":0.6,"h1":0.8,"l2":0.28,"h2":0.5,"l3":0.4,"h3":0.62},
{"p":17,"t":320,"l1":0.6,"h1":0.9,"l2":0.3,"h2":0.5,"l3":0.42,"h3":0.65},
{"p":17,"t":340,"l1":0.65,"h1":0.95,"l2":0.3,"h2":0.52,"l3":0.45,"h3":0.68},
{"p":17,"t":350,"l1":0.62,"h1":0.95,"l2":0.7,"h2":1.0,"l3":0.35,"h3":0.5},
{"p":17,"t":360,"l1":0.6,"h1":0.9,"l2":0.65,"h2":0.95,"l3":0.38,"h3":0.55},
{"p":17,"t":370,"l1":0.58,"h1":0.75,"l2":0.45,"h2":0.62,"l3":0.42,"h3":0.6},
{"p":17,"t":390,"l1":0.58,"h1":0.75,"l2":0.4,"h2":0.6,"l3":0.45,"h3":0.62},
{"p":17,"t":405,"l1":0.6,"h1":0.75,"l2":0.4,"h2":0.6,"l3":0.45,"h3":0.62},
{"p":17,"t":410,"l1":0.5,"h1":0.65,"l2":0.6,"h2":0.85,"l3":0.45,"h3":0.62},
{"p":17,"t":430,"l1":0.48,"h1":0.65,"l2":0.58,"h2":0.85,"l3":0.42,"h3":0.62},
{"p":17,"t":450,"l1":0.48,"h1":0.65,"l2":0.55,"h2":0.82,"l3":0.42,"h3":0.6},
{"p":17,"t":470,"l1":0.48,"h1":0.65,"l2":0.58,"h2":0.85,"l3":0.44,"h3":0.62},
{"p":17,"t":490,"l1":0.48,"h1":0.65,"l2":0.55,"h2":0.82,"l3":0.42,"h3":0.6},
{"p":17,"t":500,"l1":0.5,"h1":0.68,"l2":0.58,"h2":0.8,"l3":0.42,"h3":0.62},
{"p":18,"t":200,"l1":0.3,"h1":0.55,"l2":0.35,"h2":0.6,"l3":0.18,"h3":0.35},
{"p":18,"t":220,"l1":0.25,"h1":0.45,"l2":0.38,"h2":0.65,"l3":0.15,"h3":0.35},
{"p":18,"t":240,"l1":0.25,"h1":0.45,"l2":0.4,"h2":0.7,"l3":0.15,"h3":0.35},
{"p":18,"t":260,"l1":0.25,"h1":0.45,"l2":0.45,"h2":0.75,"l3":0.15,"h3":0.35},
{"p":18,"t":265,"l1":0.25,"h1":0.45,"l2":0.5,"h2":0.9,"l3":0.15,"h3":0.35},
{"p":18,"t":280,"l1":0.25,"h1":0.45,"l2":0.4,"h2":0.7,"l3":0.18,"h3":0.35},
{"p":18,"t":300,"l1":0.22,"h1":0.45,"l2":0.4,"h2":0.65,"l3":0.15,"h3":0.33},
{"p":18,"t":320,"l1":0.25,"h1":0.5,"l2":0.38,"h2":0.65,"l3":0.15,"h3":0.35},
{"p":18,"t":335,"l1":0.3,"h1":0.6,"l2":0.38,"h2":0.62,"l3":0.18,"h3":0.35},
{"p":18,"t":350,"l1":0.22,"h1":0.45,"l2":0.28,"h2":0.55,"l3":0.15,"h3":0.33},
{"p":18,"t":380,"l1":0.22,"h1":0.45,"l2":0.25,"h2":0.5,"l3":0.15,"h3":0.33},
{"p":18,"t":410,"l1":0.22,"h1":0.45,"l2":0.25,"h2":0.5,"l3":0.15,"h3":0.33},
{"p":18,"t":420,"l1":0.25,"h1":0.6,"l2":0.28,"h2":0.5,"l3":0.18,"h3":0.35},
{"p":18,"t":440,"l1":0.22,"h1":0.45,"l2":0.25,"h2":0.48,"l3":0.15,"h3":0.33},
{"p":18,"t":470,"l1":0.22,"h1":0.45,"l2":0.25,"h2":0.5,"l3":0.15,"h3":0.33},
{"p":18,"t":500,"l1":0.22,"h1":0.45,"l2":0.25,"h2":0.48,"l3":0.15,"h3":0.33},
{"p":19,"t":200,"l1":0.65,"h1":0.95,"l2":0.75,"h2":1.05,"l3":0.7,"h3":1.05},
{"p":19,"t":210,"l1":0.6,"h1":0.95,"l2":0.8,"h2":1.1,"l3":0.72,"h3":1.02},
{"p":19,"t":220,"l1":0.65,"h1":0.9,"l2":0.85,"h2":1.15,"l3":0.7,"h3":1.0},
{"p":19,"t":230,"l1":0.6,"h1":0.9,"l2":0.9,"h2":1.2,"l3":0.72,"h3":1.0},
{"p":19,"t":240,"l1":0.45,"h1":0.8,"l2":0.95,"h2":1.25,"l3":0.7,"h3":1.0},
{"p":19,"t":245,"l1":0.35,"h1":0.7,"l2":1.0,"h2":1.3,"l3":0.7,"h3":0.98},
{"p":19,"t":250,"l1":0.5,"h1":0.8,"l2":1.1,"h2":1.5,"l3":0.72,"h3":1.0},
{"p":19,"t":255,"l1":0.6,"h1":0.85,"l2":1.2,"h2":1.65,"l3":0.7,"h3":1.0},
{"p":19,"t":260,"l1":0.6,"h1":0.9,"l2":1.05,"h2":1.4,"l3":0.7,"h3":1.0},
{"p":19,"t":270,"l1":0.65,"h1":0.9,"l2":0.95,"h2":1.3,"l3":0.72,"h3":1.02},
{"p":19,"t":280,"l1":0.62,"h1":0.88,"l2":0.9,"h2":1.25,"l3":0.72,"h3":1.0},
{"p":19,"t":290,"l1":0.7,"h1":0.95,"l2":0.9,"h2":1.25,"l3":0.75,"h3":1.02},
{"p":19,"t":300,"l1":0.65,"h1":0.9,"l2":0.95,"h2":1.3,"l3":0.72,"h3":1.0},
{"p":19,"t":310,"l1":0.6,"h1":0.88,"l2":0.9,"h2":1.25,"l3":0.7,"h3":0.98},
{"p":19,"t":320,"l1":0.58,"h1":0.85,"l2":0.95,"h2":1.3,"l3":0.72,"h3":1.0},
{"p":19,"t":330,"l1":0.62,"h1":0.88,"l2":0.9,"h2":1.2,"l3":0.7,"h3":0.98},
{"p":19,"t":340,"l1":0.6,"h1":0.85,"l2":0.85,"h2":1.15,"l3":0.72,"h3":1.0},
{"p":19,"t":350,"l1":0.62,"h1":0.88,"l2":0.85,"h2":1.2,"l3":0.7,"h3":0.98},
{"p":19,"t":360,"l1":0.6,"h1":0.85,"l2":0.8,"h2":1.15,"l3":0.7,"h3":1.0},
{"p":19,"t":370,"l1":0.5,"h1":0.8,"l2":0.85,"h2":1.2,"l3":0.72,"h3":1.0},
{"p":19,"t":375,"l1":0.45,"h1":0.75,"l2":0.9,"h2":1.25,"l3":0.7,"h3":0.98},
{"p":19,"t":380,"l1":0.6,"h1":0.85,"l2":0.95,"h2":1.3,"l3":0.72,"h3":1.0},
{"p":19,"t":390,"l1":0.62,"h1":0.9,"l2":1.1,"h2":1.45,"l3":0.75,"h3":1.02},
{"p":19,"t":400,"l1":0.6,"h1":0.88,"l2":1.0,"h2":1.4,"l3":0.72,"h3":1.0},
{"p":19,"t":410,"l1":0.62,"h1":0.88,"l2":0.85,"h2":1.15,"l3":0.72,"h3":1.0},
{"p":19,"t":420,"l1":0.6,"h1":0.85,"l2":0.8,"h2":1.1,"l3":0.7,"h3":0.98},
{"p":19,"t":430,"l1":0.62,"h1":0.88,"l2":0.78,"h2":1.1,"l3":0.72,"h3":1.0},
{"p":19,"t":440,"l1":0.6,"h1":0.85,"l2":0.8,"h2":1.12,"l3":0.7,"h3":0.98},
{"p":19,"t":450,"l1":0.62,"h1":0.9,"l2":0.78,"h2":1.1,"l3":0.72,"h3":1.0},
{"p":19,"t":460,"l1":0.6,"h1":0.88,"l2":0.8,"h2":1.1,"l3":0.72,"h3":1.0},
{"p":19,"t":470,"l1":0.65,"h1":0.9,"l2":0.78,"h2":1.08,"l3":0.7,"h3":0.98},
{"p":19,"t":480,"l1":0.62,"h1":0.88,"l2":0.78,"h2":1.1,"l3":0.72,"h3":1.0},
{"p":19,"t":490,"l1":0.55,"h1":0.8,"l2":0.7,"h2":1.05,"l3":0.7,"h3":0.98},
{"p":19,"t":500,"l1":0.6,"h1":0.82,"l2":0.75,"h2":1.0,"l3":0.7,"h3":0.98},
{"p":20,"k":"empty"},
{"p":9,"k":"st","tx":"γ-Secretase-Notch100 Complex"},
{"p":9,"k":"dl"},
{"p":10,"k":"hA","tx":"A: Nicastrin"},
{"p":10,"k":"hB","tx":"B: PS1"},
{"p":10,"k":"hE","tx":"E:Notch100"},
{"p":13,"k":"yt","tx":"Distance (nm)"},
{"p":18,"k":"xt","tx":"Time (ns)"},
{"p":9,"t1":"B:ARG108:NH1","c1":"B","t2":"E:GLU1727:OE2","c2":"E","x1":353.9,"xd":361.3},
{"p":10,"t1":"B:SER169:OG","c1":"B","t2":"E:VAL1745:O","c2":"E","x1":376.1,"xd":383.4},
{"p":11,"t1":"B:GLY378:N","c1":"B","t2":"E:LYS1759:O","c2":"E","x1":377.0,"xd":384.4},
{"p":12,"t1":"B:LYS380:N","c1":"B","t2":"E:SER1757:O","c2":"E","x1":375.1,"xd":382.5},
{"p":13,"t1":"B:LEU432:N","c1":"B","t2":"E:LEU1756:O","c2":"E","x1":376.1,"xd":383.4},
{"p":14,"t1":"E:SER1723:OG","c1":"E","t2":"A:TRP653:O","c2":"A","x1":384.4,"xd":391.7},
{"p":15,"t1":"E:LEU1756:N","c1":"E","t2":"B:LEU432:O","c2":"B","x1":384.4,"xd":391.7},
{"p":16,"t1":"E:SER1757:N","c1":"E","t2":"B:LYS380:O","c2":"B","x1":385.3,"xd":392.7},
{"p":17,"t1":"E:ARG1758:NH1","c1":"E","t2":"B:LEU425:O","c2":"B","x1":384.4,"xd":391.7},
{"p":18,"t1":"E:LYS1759:N","c1":"E","t2":"B:GLY378:O","c2":"B","x1":383.4,"xd":390.8},
{"p":19,"t1":"E:ARG1751:N","c1":"E","t2":"B:GLU376:O","c2":"B","x1":382.6,"xd":390.0}
]
},
"vconcat": [
{
"data": {"name": "c83"},
"facet": {"field": "p", "type": "ordinal", "header": {"labels": false, "title": null, "labelFontSize": 0, "labelPadding": 0, "labelExpr": "''"}},
"columns": 4,
"spacing": 13,
"bounds": "flush",
"resolve": {"axis": {"x": "independent", "y": "independent"}},
"spec": {
"width": 253, "height": 117,
"layer": [
{"transform": [{"filter": "isValid(datum.t)"}], "mark": {"type": "area", "color": "#7a3a93"},
 "encoding": {"x": {"field": "t", "type": "quantitative", "title": null, "scale": {"domain": [200, 500], "nice": false, "zero": false}, "axis": {"values": [200, 250, 300, 350, 400, 450, 500], "labels": false}},
  "y": {"field": "l1", "type": "quantitative", "title": null, "scale": {"domain": [0, 2.5], "nice": false}, "axis": {"values": [0, 0.5, 1, 1.5, 2, 2.5], "labelExpr": "(((item.mark.group.datum && item.mark.group.datum.p) || (item.mark.group.mark.group && item.mark.group.mark.group.datum && item.mark.group.mark.group.datum.p) || 1) - 1) % 4 === 0 && datum.value % 1 === 0 && datum.value < 2.5 ? format(datum.value, 'd') : ''"}},
  "y2": {"field": "h1"}}},
{"transform": [{"filter": "isValid(datum.t)"}], "mark": {"type": "area", "color": "#3a4b9e"},
 "encoding": {"x": {"field": "t", "type": "quantitative", "title": null}, "y": {"field": "l2", "type": "quantitative", "title": null}, "y2": {"field": "h2"}}},
{"transform": [{"filter": "isValid(datum.t)"}], "mark": {"type": "area", "color": "#5cc6cd"},
 "encoding": {"x": {"field": "t", "type": "quantitative", "title": null}, "y": {"field": "l3", "type": "quantitative", "title": null}, "y2": {"field": "h3"}}},
{"transform": [{"filter": "isValid(datum.t1)"}], "mark": {"type": "text", "align": "right", "baseline": "middle", "fontSize": 14, "fontWeight": "bold"},
 "encoding": {"x": {"field": "x1", "type": "quantitative", "title": null}, "y": {"datum": 2.22}, "text": {"field": "t1"},
  "color": {"field": "c1", "type": "nominal", "scale": {"domain": ["A", "B", "E"], "range": ["#1ba34f", "#4a6cb3", "#f0612f"]}, "legend": null}}},
{"transform": [{"filter": "isValid(datum.t1)"}], "mark": {"type": "text", "align": "center", "baseline": "middle", "fontSize": 14, "fontWeight": "bold", "color": "#1a1a1a"},
 "encoding": {"x": {"field": "xd", "type": "quantitative", "title": null}, "y": {"datum": 2.22}, "text": {"value": "-"}}},
{"transform": [{"filter": "isValid(datum.t2)"}], "mark": {"type": "text", "align": "right", "baseline": "middle", "fontSize": 14, "fontWeight": "bold"},
 "encoding": {"x": {"datum": 496}, "y": {"datum": 2.22}, "text": {"field": "t2"},
  "color": {"field": "c2", "type": "nominal", "scale": {"domain": ["A", "B", "E"], "range": ["#1ba34f", "#4a6cb3", "#f0612f"]}, "legend": null}}},
{"transform": [{"filter": "datum.k === 'st'"}], "mark": {"type": "text", "align": "left", "baseline": "middle", "fontSize": 18.5, "fontWeight": "bold", "color": "#111111"},
 "encoding": {"x": {"datum": 151.4}, "y": {"datum": 3.0}, "text": {"field": "tx"}}},
{"transform": [{"filter": "datum.k === 'hA'"}], "mark": {"type": "text", "align": "left", "baseline": "middle", "fontSize": 21, "fontWeight": "bold", "color": "#1ba34f"},
 "encoding": {"x": {"datum": 331.6}, "y": {"datum": 3.0}, "text": {"field": "tx"}}},
{"transform": [{"filter": "datum.k === 'hB'"}], "mark": {"type": "text", "align": "left", "baseline": "middle", "fontSize": 21, "fontWeight": "bold", "color": "#4a6cb3"},
 "encoding": {"x": {"datum": 478.3}, "y": {"datum": 3.0}, "text": {"field": "tx"}}},
{"transform": [{"filter": "datum.k === 'hE'"}], "mark": {"type": "text", "align": "left", "baseline": "middle", "fontSize": 21, "fontWeight": "bold", "color": "#f0612f"},
 "encoding": {"x": {"datum": 565.5}, "y": {"datum": 3.0}, "text": {"field": "tx"}}},
{"transform": [{"filter": "datum.k === 'yt'"}], "mark": {"type": "text", "angle": 270, "align": "center", "baseline": "middle", "fontSize": 17, "fontWeight": "bold", "color": "#111111"},
 "encoding": {"x": {"datum": 163.2}, "y": {"datum": -0.15}, "text": {"field": "tx"}}}
]
}
},
{
"data": {"name": "notch"},
"facet": {"field": "p", "type": "ordinal", "header": {"labels": false, "title": null, "labelFontSize": 0, "labelPadding": 0, "labelExpr": "''"}},
"columns": 4,
"spacing": 13,
"bounds": "flush",
"resolve": {"axis": {"x": "independent", "y": "independent"}},
"spec": {
"width": 253, "height": 117,
"layer": [
{"transform": [{"filter": "isValid(datum.t)"}], "mark": {"type": "area", "color": "#0d0d0d"},
 "encoding": {"x": {"field": "t", "type": "quantitative", "title": null, "scale": {"domain": [200, 500], "nice": false, "zero": false}, "axis": {"values": [200, 250, 300, 350, 400, 450, 500], "labelExpr": "((item.mark.group.datum && item.mark.group.datum.p) || (item.mark.group.mark.group && item.mark.group.mark.group.datum && item.mark.group.mark.group.datum.p) || 20) >= 17 && datum.value % 100 === 0 ? format(datum.value, 'd') : ''", "labelFlush": true, "labelFlushOffset": 5}},
  "y": {"field": "l1", "type": "quantitative", "title": null, "scale": {"domain": [0, 2.5], "nice": false}, "axis": {"values": [0, 0.5, 1, 1.5, 2, 2.5], "labelExpr": "(((item.mark.group.datum && item.mark.group.datum.p) || (item.mark.group.mark.group && item.mark.group.mark.group.datum && item.mark.group.mark.group.datum.p) || 1) - 1) % 4 === 0 && datum.value % 1 === 0 && datum.value < 2.5 ? format(datum.value, 'd') : ''"}},
  "y2": {"field": "h1"}}},
{"transform": [{"filter": "isValid(datum.t)"}], "mark": {"type": "area", "color": "#f26b36"},
 "encoding": {"x": {"field": "t", "type": "quantitative", "title": null}, "y": {"field": "l2", "type": "quantitative", "title": null}, "y2": {"field": "h2"}}},
{"transform": [{"filter": "isValid(datum.t)"}], "mark": {"type": "area", "color": "#3fb54b"},
 "encoding": {"x": {"field": "t", "type": "quantitative", "title": null}, "y": {"field": "l3", "type": "quantitative", "title": null}, "y2": {"field": "h3"}}},
{"transform": [{"filter": "isValid(datum.t1)"}], "mark": {"type": "text", "align": "right", "baseline": "middle", "fontSize": 14, "fontWeight": "bold"},
 "encoding": {"x": {"field": "x1", "type": "quantitative", "title": null}, "y": {"datum": 2.22}, "text": {"field": "t1"},
  "color": {"field": "c1", "type": "nominal", "scale": {"domain": ["A", "B", "E"], "range": ["#1ba34f", "#4a6cb3", "#f0612f"]}, "legend": null}}},
{"transform": [{"filter": "isValid(datum.t1)"}], "mark": {"type": "text", "align": "center", "baseline": "middle", "fontSize": 14, "fontWeight": "bold", "color": "#1a1a1a"},
 "encoding": {"x": {"field": "xd", "type": "quantitative", "title": null}, "y": {"datum": 2.22}, "text": {"value": "-"}}},
{"transform": [{"filter": "isValid(datum.t2)"}], "mark": {"type": "text", "align": "right", "baseline": "middle", "fontSize": 14, "fontWeight": "bold"},
 "encoding": {"x": {"datum": 496}, "y": {"datum": 2.22}, "text": {"field": "t2"},
  "color": {"field": "c2", "type": "nominal", "scale": {"domain": ["A", "B", "E"], "range": ["#1ba34f", "#4a6cb3", "#f0612f"]}, "legend": null}}},
{"transform": [{"filter": "datum.k === 'st'"}], "mark": {"type": "text", "align": "left", "baseline": "middle", "fontSize": 18.5, "fontWeight": "bold", "color": "#111111"},
 "encoding": {"x": {"datum": 151.4}, "y": {"datum": 3.0}, "text": {"field": "tx"}}},
{"transform": [{"filter": "datum.k === 'dl'"}], "mark": {"type": "rule", "strokeDash": [2, 2], "color": "#555555", "strokeWidth": 1},
 "encoding": {"x": {"datum": 151.4}, "x2": {"datum": 1478}, "y": {"datum": 3.28}}},
{"transform": [{"filter": "datum.k === 'hA'"}], "mark": {"type": "text", "align": "left", "baseline": "middle", "fontSize": 21, "fontWeight": "bold", "color": "#1ba34f"},
 "encoding": {"x": {"datum": 324.5}, "y": {"datum": 3.0}, "text": {"field": "tx"}}},
{"transform": [{"filter": "datum.k === 'hB'"}], "mark": {"type": "text", "align": "left", "baseline": "middle", "fontSize": 21, "fontWeight": "bold", "color": "#4a6cb3"},
 "encoding": {"x": {"datum": 471.2}, "y": {"datum": 3.0}, "text": {"field": "tx"}}},
{"transform": [{"filter": "datum.k === 'hE'"}], "mark": {"type": "text", "align": "left", "baseline": "middle", "fontSize": 21, "fontWeight": "bold", "color": "#f0612f"},
 "encoding": {"x": {"datum": 558.3}, "y": {"datum": 3.0}, "text": {"field": "tx"}}},
{"transform": [{"filter": "datum.k === 'yt'"}], "mark": {"type": "text", "angle": 270, "align": "center", "baseline": "middle", "fontSize": 17, "fontWeight": "bold", "color": "#111111"},
 "encoding": {"x": {"datum": 163.2}, "y": {"datum": 0.96}, "text": {"field": "tx"}}},
{"transform": [{"filter": "datum.k === 'xt'"}], "mark": {"type": "text", "align": "center", "baseline": "middle", "fontSize": 16, "fontWeight": "bold", "color": "#111111"},
 "encoding": {"x": {"datum": 508.3}, "y": {"datum": -0.7}, "text": {"field": "tx"}}}
]
}
}
],
"config": {
"font": "Liberation Sans",
"view": {"stroke": null},
"header": {"labels": false, "title": null},
"headerFacet": {"labels": false, "title": null},
"axis": {"grid": false, "domainColor": "#4a4a4a", "domainWidth": 1.3, "tickColor": "#4a4a4a", "tickWidth": 1, "tickSize": -4, "labelFont": "Liberation Sans", "labelFontSize": 17, "labelColor": "#1a1a1a", "labelPadding": 10, "labelOverlap": false}
}
}
